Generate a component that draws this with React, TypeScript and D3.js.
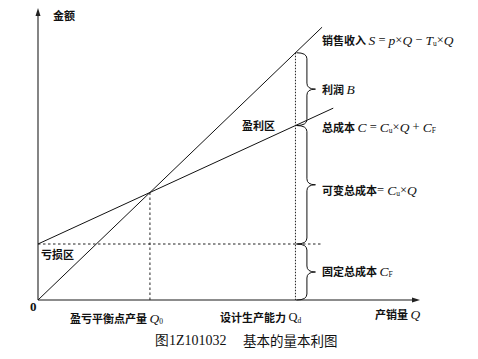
import React from "react";
import * as d3 from "d3";

const W = 478, H = 359;
// model values (arbitrary units)
const fixedCost = 2;        // C_F
const unitPrice = 0.96;     // p - T_u
const unitVarCost = 0.46;   // C_u
const breakEvenQ = fixedCost / (unitPrice - unitVarCost); // Q0 = 4
const designQ = 9.2;        // Qd
const revenueQ = [0, 10.15];
const costQ = [0, 10.55];
const fixedLineQ = [0, 10.15];
const xMax = 13.65;
const yMax = 10.43;

const CJK = "'Noto Sans CJK SC', sans-serif";
const SERIF = "'Liberation Serif', 'DejaVu Serif', serif";

function brace(x0: number, y1: number, y2: number, w: number) {
  const xm = x0 + w * 0.55;
  const tip = x0 + w;
  const ym = (y1 + y2) / 2;
  const r = Math.min(6, (y2 - y1) / 4);
  return `M${x0},${y1} Q${xm},${y1} ${xm},${y1 + r} L${xm},${ym - r} Q${xm},${ym} ${tip},${ym} Q${xm},${ym} ${xm},${ym + r} L${xm},${y2 - r} Q${xm},${y2} ${x0},${y2}`;
}

const It = ({ children }: { children: React.ReactNode }) => (
  <tspan fontFamily={SERIF} fontStyle="italic" fontWeight="normal" fontSize={13.5}>{children}</tspan>
);
const Rm = ({ children }: { children: React.ReactNode }) => (
  <tspan fontFamily={SERIF} fontWeight="normal" fontSize={12.5}>{children}</tspan>
);
const Sub = ({ children }: { children: React.ReactNode }) => (
  <tspan fontFamily={SERIF} fontWeight="normal" fontSize={7.5} dy={3}>{children}</tspan>
);
const Up = ({ children }: { children: React.ReactNode }) => (
  <tspan dy={-3}>{children}</tspan>
);

export default function App() {
  const x = d3.scaleLinear().domain([0, xMax]).range([38, 420]);
  const y = d3.scaleLinear().domain([0, yMax]).range([300, 8]);
  const line = d3.line<[number, number]>().x(d => x(d[0])).y(d => y(d[1]));
  const revenue = (q: number) => unitPrice * q;
  const cost = (q: number) => fixedCost + unitVarCost * q;

  const revPath = line(revenueQ.map(q => [q, revenue(q)] as [number, number]))!;
  const costPath = line(costQ.map(q => [q, cost(q)] as [number, number]))!;
  const fixedPath = line(fixedLineQ.map(q => [q, fixedCost] as [number, number]))!;

  const xQd = x(designQ);
  const yRevQd = y(revenue(designQ));
  const yCostQd = y(cost(designQ));
  const yFixed = y(fixedCost);
  const y0 = y(0);
  const xQ0 = x(breakEvenQ);
  const yQ0 = y(revenue(breakEvenQ));
  const bx = xQd + 1;
  const tx = 322;
  const fs = 11;

  return (
    <svg width={W} height={H} style={{ position: "absolute", left: 0, top: 0, background: "#fff" }}>
      {/* axes */}
      <line x1={x(0)} y1={y0} x2={x(xMax) - 4} y2={y0} stroke="#666" strokeWidth={1.6} />
      <line x1={x(0)} y1={y0} x2={x(0)} y2={y(yMax) + 4} stroke="#666" strokeWidth={1.6} />
      <path d={`M${x(xMax)},${y0} L${x(xMax) - 8},${y0 - 2.5} L${x(xMax) - 8},${y0 + 2.5}Z`} fill="#222" />
      <path d={`M${x(0)},${y(yMax)} L${x(0) - 2.5},${y(yMax) + 8} L${x(0) + 2.5},${y(yMax) + 8}Z`} fill="#222" />

      {/* guide lines */}
      <path d={fixedPath} stroke="#222" strokeWidth={1} strokeDasharray="2.5,2.5" fill="none" />
      <line x1={xQ0} y1={yQ0} x2={xQ0} y2={y0} stroke="#222" strokeWidth={1} strokeDasharray="2.5,2.5" />
      <line x1={xQd} y1={yRevQd} x2={xQd} y2={y0} stroke="#222" strokeWidth={1} strokeDasharray="1.5,1.5" />

      {/* main lines */}
      <path d={revPath} stroke="#111" strokeWidth={1} fill="none" />
      <path d={costPath} stroke="#111" strokeWidth={1} fill="none" />

      {/* braces */}
      <g stroke="#111" strokeWidth={1} fill="none">
        <path d={brace(bx, yRevQd, yCostQd, 19)} />
        <path d={brace(bx, yCostQd, yFixed, 19)} />
        <path d={brace(bx, yFixed, y0, 19)} />
      </g>

      <g fontFamily={CJK} fontWeight="bold" fontSize={fs} fill="#111" dominantBaseline="central">
        <text x={53} y={15}>金额</text>
        <text x={tx} y={40}>销售收入 <It>S</It><Rm> = </Rm><It>p</It><Rm>×</Rm><It>Q</It><Rm> − </Rm><It>T</It><Sub>u</Sub><Up><Rm>×</Rm></Up><It>Q</It></text>
        <text x={tx} y={(yRevQd + yCostQd) / 2}>利润 <It>B</It></text>
        <text x={242} y={125}>盈利区</text>
        <text x={tx} y={127}>总成本 <It>C</It><Rm> = </Rm><It>C</It><Sub>u</Sub><Up><Rm>×</Rm></Up><It>Q</It><Rm> + </Rm><It>C</It><Sub>F</Sub></text>
        <text x={tx} y={190}>可变总成本<Rm>= </Rm><It>C</It><Sub>u</Sub><Up><Rm>×</Rm></Up><It>Q</It></text>
        <text x={tx} y={271}>固定总成本 <It>C</It><Sub>F</Sub></text>
        <text x={41} y={254}>亏损区</text>
        <text x={70} y={318}>盈亏平衡点产量 <It>Q</It><Sub>0</Sub></text>
        <text x={220} y={317}>设计生产能力 <Rm>Q</Rm><Sub>d</Sub></text>
        <text x={375} y={314}>产销量 <It>Q</It></text>
        <text x={30} y={306} fontFamily={SERIF} fontWeight="bold" fontSize={13}>0</text>
        <text x={155} y={340} fontWeight="normal" fontSize={13.5}><tspan fontFamily={SERIF} fontSize={14}>图1Z101032</tspan>　 基本的量本利图</text>
      </g>
    </svg>
  );
}
